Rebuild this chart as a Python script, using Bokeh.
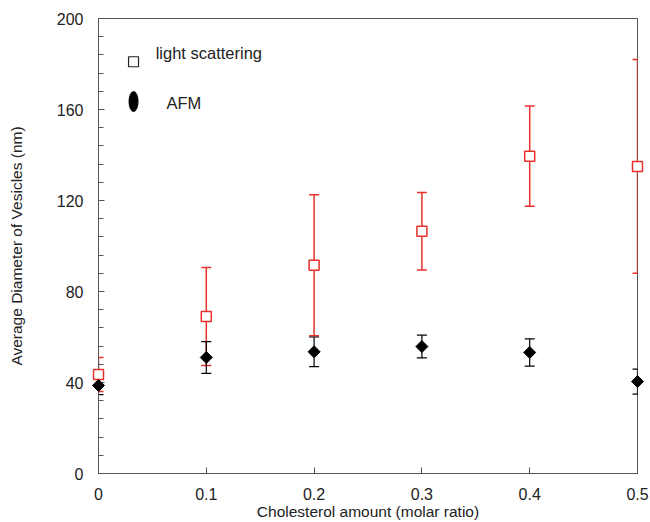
from bokeh.plotting import figure
from bokeh.models import Range1d, Whisker, ColumnDataSource, TeeHead, FixedTicker
from bokeh.embed import file_html
from bokeh.resources import INLINE
from bokeh.core.properties import value
import math

# ---- data ----
molar_ratio = [0.0, 0.1, 0.2, 0.3, 0.4, 0.5]
ls_diameter = [43.5, 69.0, 91.5, 106.5, 139.5, 135.0]
ls_error = [7.5, 21.5, 31.0, 17.0, 22.0, 47.0]
afm_diameter = [38.7, 51.0, 53.5, 55.8, 53.2, 40.4]
afm_error = [4.0, 7.0, 6.5, 5.0, 6.0, 5.5]
x_ticks = [0.0, 0.1, 0.2, 0.3, 0.4, 0.5]
x_tick_labels = ["0", "0.1", "0.2", "0.3", "0.4", "0.5"]
y_ticks = [0, 40, 80, 120, 160, 200]
y_minor_ticks = list(range(0, 201, 8))
legend_labels = ["light scattering", "AFM"]

# ---- legend layout (data coordinates inside the frame) ----
leg_marker_x = 0.0325
leg_ls_y = 181.0
leg_afm_y = 163.5
leg_ls_text_x = 0.053
leg_ls_text_y = 185.0
leg_afm_text_x = 0.063
leg_afm_text_y = 163.0

RED = "#e8312b"
AXIS = "#555555"
TXT = "#222222"
FONT = "Liberation Sans"

p = figure(width=650, height=522, output_backend="svg", toolbar_location=None,
           x_range=Range1d(0, 0.5), y_range=Range1d(0, 200),
           min_border_left=98, min_border_right=13, min_border_top=18, min_border_bottom=49)

p.xgrid.visible = False
p.ygrid.visible = False
p.outline_line_color = AXIS
p.outline_line_width = 1
p.background_fill_color = "white"
p.border_fill_color = "white"

p.xaxis.ticker = FixedTicker(ticks=x_ticks)
p.xaxis.major_label_overrides = dict(zip(x_ticks, x_tick_labels))
p.yaxis.ticker = FixedTicker(ticks=y_ticks, minor_ticks=y_minor_ticks)

for ax in (p.xaxis[0], p.yaxis[0]):
    ax.axis_line_color = AXIS
    ax.axis_line_width = 1
    ax.major_tick_line_color = AXIS
    ax.major_tick_in = 6
    ax.major_tick_out = 0
    ax.major_label_text_font = FONT
    ax.major_label_text_font_size = "16px"
    ax.major_label_text_color = TXT
    ax.axis_label_text_font = FONT
    ax.axis_label_text_font_size = "15.5px"
    ax.axis_label_text_font_style = "normal"
    ax.axis_label_text_color = TXT

p.xaxis.minor_tick_line_color = None
p.yaxis.minor_tick_line_color = AXIS
p.yaxis.minor_tick_in = 5
p.yaxis.minor_tick_out = 0

p.xaxis.axis_label = "Cholesterol amount (molar ratio)"
p.yaxis.axis_label = "Average Diameter of Vesicles (nm)"
p.xaxis.major_label_standoff = 14
p.xaxis.axis_label_standoff = 0
p.yaxis.major_label_standoff = 15
p.yaxis.axis_label_standoff = 29

# ---- error bars ----
ls_src = ColumnDataSource(dict(
    x=molar_ratio, y=ls_diameter,
    lower=[m - e for m, e in zip(ls_diameter, ls_error)],
    upper=[m + e for m, e in zip(ls_diameter, ls_error)]))
afm_src = ColumnDataSource(dict(
    x=molar_ratio, y=afm_diameter,
    lower=[m - e for m, e in zip(afm_diameter, afm_error)],
    upper=[m + e for m, e in zip(afm_diameter, afm_error)]))

p.add_layout(Whisker(source=ls_src, base="x", lower="lower", upper="upper",
                     line_color=RED, line_width=1.5,
                     upper_head=TeeHead(size=10, line_color=RED, line_width=1.5),
                     lower_head=TeeHead(size=10, line_color=RED, line_width=1.5)))
p.add_layout(Whisker(source=afm_src, base="x", lower="lower", upper="upper",
                     line_color="black", line_width=1.2,
                     upper_head=TeeHead(size=10, line_color="black", line_width=1.2),
                     lower_head=TeeHead(size=10, line_color="black", line_width=1.2)))

r1 = p.scatter("x", "y", source=ls_src, marker="square", size=10,
               line_color=RED, fill_color="white", line_width=1.5)
r2 = p.scatter("x", "y", source=afm_src, marker="square", size=8.5, angle=math.pi / 4,
               line_color="black", fill_color="black", line_width=1)
r1.level = "annotation"
r2.level = "annotation"

# ---- custom legend ----
p.scatter([leg_marker_x], [leg_ls_y], marker="square", size=10,
          line_color=TXT, fill_color="white", line_width=1.2)
p.ellipse(x=[leg_marker_x], y=[leg_afm_y], width=9, height=20,
          width_units="screen", height_units="screen",
          fill_color="black", line_color="black")
p.text(x=[leg_ls_text_x], y=[leg_ls_text_y], text=[legend_labels[0]],
       text_font=value(FONT), text_font_size="16.5px", text_color=TXT,
       text_align="left", text_baseline="middle")
p.text(x=[leg_afm_text_x], y=[leg_afm_text_y], text=[legend_labels[1]],
       text_font=value(FONT), text_font_size="16.5px", text_color=TXT,
       text_align="left", text_baseline="middle")

open("out.html", "w").write(file_html(p, INLINE))
